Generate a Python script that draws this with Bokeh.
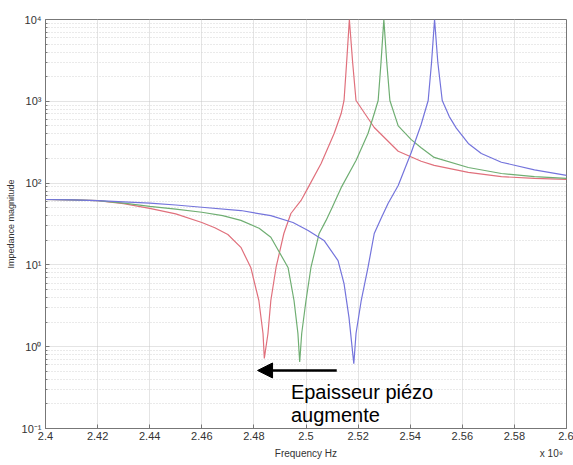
from bokeh.plotting import figure
from bokeh.models import Range1d, FixedTicker, Label, Arrow, NormalHead, LinearAxis
from bokeh.embed import file_html
from bokeh.resources import INLINE

# ---------------- data (frequency in GHz, impedance magnitude) ----------------
red_f = [2.400, 2.410, 2.420, 2.430, 2.440, 2.450, 2.460, 2.465, 2.470, 2.475, 2.4788,
         2.4819, 2.4835, 2.4840, 2.4854, 2.4865, 2.4885, 2.4915, 2.4942, 2.4981, 2.5008,
         2.5058, 2.5108, 2.5135, 2.5146, 2.5156, 2.51665, 2.5179, 2.5192, 2.5262, 2.5354,
         2.5442, 2.5492, 2.5623, 2.5750, 2.5877, 2.6000]
red_z = [63, 62.5, 61, 56, 49, 42, 33, 28.5, 23.5, 16.4, 9.3,
         3.67, 1.45, 0.72, 1.45, 3.67, 9.3, 24.2, 42.5, 61.3, 88,
         174, 404, 709, 1023, 3000, 10000, 3000, 1023, 478, 245,
         185, 165, 135, 120, 114, 111]

green_f = [2.400, 2.410, 2.420, 2.430, 2.440, 2.450, 2.460, 2.468, 2.475, 2.482, 2.4865,
           2.4931, 2.4954, 2.4969, 2.49758, 2.49835, 2.5000, 2.5019, 2.5050, 2.5077, 2.5100,
           2.5135, 2.5192, 2.5238, 2.5262, 2.5277, 2.5288, 2.52988, 2.5310, 2.5322, 2.5354,
           2.5404, 2.5442, 2.5492, 2.5623, 2.5750, 2.5877, 2.6000]
green_z = [63, 62.5, 61, 57, 52, 48, 44, 40, 35, 28, 21.8,
           9.3, 3.67, 1.45, 0.65, 1.45, 3.67, 9.3, 24, 35, 50,
           88, 189, 404, 709, 1023, 3000, 10000, 3000, 1023, 500,
           340, 270, 206, 155, 131, 120, 114]

blue_f = [2.400, 2.410, 2.420, 2.430, 2.440, 2.450, 2.460, 2.475, 2.4865, 2.4950, 2.5008,
          2.5069, 2.5123, 2.5146, 2.5165, 2.51835, 2.5192, 2.5212, 2.5238, 2.5262, 2.5288,
          2.5315, 2.5354, 2.5404, 2.5442, 2.5469, 2.5482, 2.54935, 2.5506, 2.5523, 2.5550,
          2.5577, 2.5623, 2.5673, 2.5750, 2.5877, 2.6000]
blue_z = [63, 62.5, 61, 59, 56.8, 54, 50.7, 46.2, 40, 33, 26.4,
          19.9, 11.3, 5.9, 2.28, 0.62, 1.45, 3.67, 9.3, 24.2, 36.9,
          56.3, 93.5, 237, 520, 1023, 3000, 10000, 3000, 1023, 650,
          470, 305, 230, 180, 145, 124]

x_ticks = [2.40, 2.42, 2.44, 2.46, 2.48, 2.50, 2.52, 2.54, 2.56, 2.58, 2.60]
x_tick_labels = ["2.4", "2.42", "2.44", "2.46", "2.48", "2.5", "2.52", "2.54", "2.56", "2.58", "2.6"]
y_ticks = [0.1, 1, 10, 100, 1000, 10000]
y_tick_labels = ["10\u207b\u00b9", "10\u2070", "10\u00b9", "10\u00b2", "10\u00b3", "10\u2074"]
y_minor = [m * 10.0 ** e for e in range(-1, 4) for m in range(2, 10)]

# texts under the x axis, placed along the frequency axis
under_x_pos = [2.5005, 2.5942]
under_x_text = ["Frequency  Hz", "x 10\u2079"]
y_title = "Impedance magnitude"

# annotation (arrow + text) positions in data space
arrow_x = [2.5118, 2.4814]
arrow_y = 0.512
note_x = 2.4942
note_lines = ["Epaisseur pi\u00e9zo", "augmente"]
note_y = [0.281, 0.146]

FONT = "Liberation Sans"
GRID = "#c8c8c8"
AX = "#777777"
TXT = "#333333"

p = figure(width=573, height=465, x_range=Range1d(2.4, 2.6), y_range=Range1d(0.1, 1e4),
           y_axis_type="log", output_backend="svg", toolbar_location=None,
           min_border_left=45, min_border_right=7, min_border_top=19, min_border_bottom=37)
p.outline_line_color = AX
p.background_fill_color = "white"
p.border_fill_color = "white"

xt = FixedTicker(ticks=x_ticks, minor_ticks=[])
yt = FixedTicker(ticks=y_ticks, minor_ticks=y_minor)

xa = p.xaxis[0]
xa.ticker = xt
xa.major_label_overrides = dict(zip(x_ticks, x_tick_labels))
ya = p.yaxis[0]
ya.ticker = yt
ya.major_label_overrides = dict(zip(y_ticks, y_tick_labels))

for ax in (xa, ya):
    ax.axis_line_color = AX
    ax.major_tick_line_color = AX
    ax.minor_tick_line_color = AX
    ax.major_tick_in = 4
    ax.major_tick_out = 0
    ax.minor_tick_in = 2
    ax.minor_tick_out = 0
    ax.major_label_text_font = FONT
    ax.major_label_text_font_size = "11px"
    ax.major_label_text_color = TXT
    ax.axis_label_text_font = FONT
    ax.axis_label_text_font_style = "normal"
    ax.axis_label_text_color = TXT
xa.minor_tick_line_color = None
xa.major_label_standoff = 3
ya.major_label_standoff = 4

ya.axis_label = y_title
ya.axis_label_text_font_size = "9px"
ya.axis_label_standoff = 3

# second (tick-less) axis carrying the x title and the "x 10^9" scale note
ut = FixedTicker(ticks=under_x_pos, minor_ticks=[])
under = LinearAxis(ticker=ut, axis_line_color=None, major_tick_line_color=None,
                   minor_tick_line_color=None, major_tick_in=0, major_tick_out=0,
                   major_label_standoff=5, major_label_text_font=FONT,
                   major_label_text_font_size="10px", major_label_text_color=TXT,
                   major_label_overrides=dict(zip(under_x_pos, under_x_text)))
p.add_layout(under, "below")

p.xgrid.ticker = xt
p.ygrid.ticker = yt
p.xgrid.grid_line_color = GRID
p.xgrid.grid_line_dash = "1 1"
p.ygrid.grid_line_color = GRID
p.ygrid.grid_line_dash = "1 1"
p.ygrid.minor_grid_line_color = "#d4d4d4"
p.ygrid.minor_grid_line_dash = "1 2"

p.line(red_f, red_z, line_color="#e0707c", line_width=1.2)
p.line(green_f, green_z, line_color="#6fae72", line_width=1.2)
p.line(blue_f, blue_z, line_color="#7474dc", line_width=1.2)

p.add_layout(Arrow(end=NormalHead(size=15, fill_color="black", line_color="black"),
                   x_start=arrow_x[0], y_start=arrow_y, x_end=arrow_x[1], y_end=arrow_y,
                   line_color="black", line_width=2.5))
for txt, yy in zip(note_lines, note_y):
    p.add_layout(Label(x=note_x, y=yy, text=txt, text_font=FONT, text_font_size="20px",
                       text_color="black", text_baseline="alphabetic", text_align="left"))

open("out.html", "w").write(file_html(p, INLINE))
